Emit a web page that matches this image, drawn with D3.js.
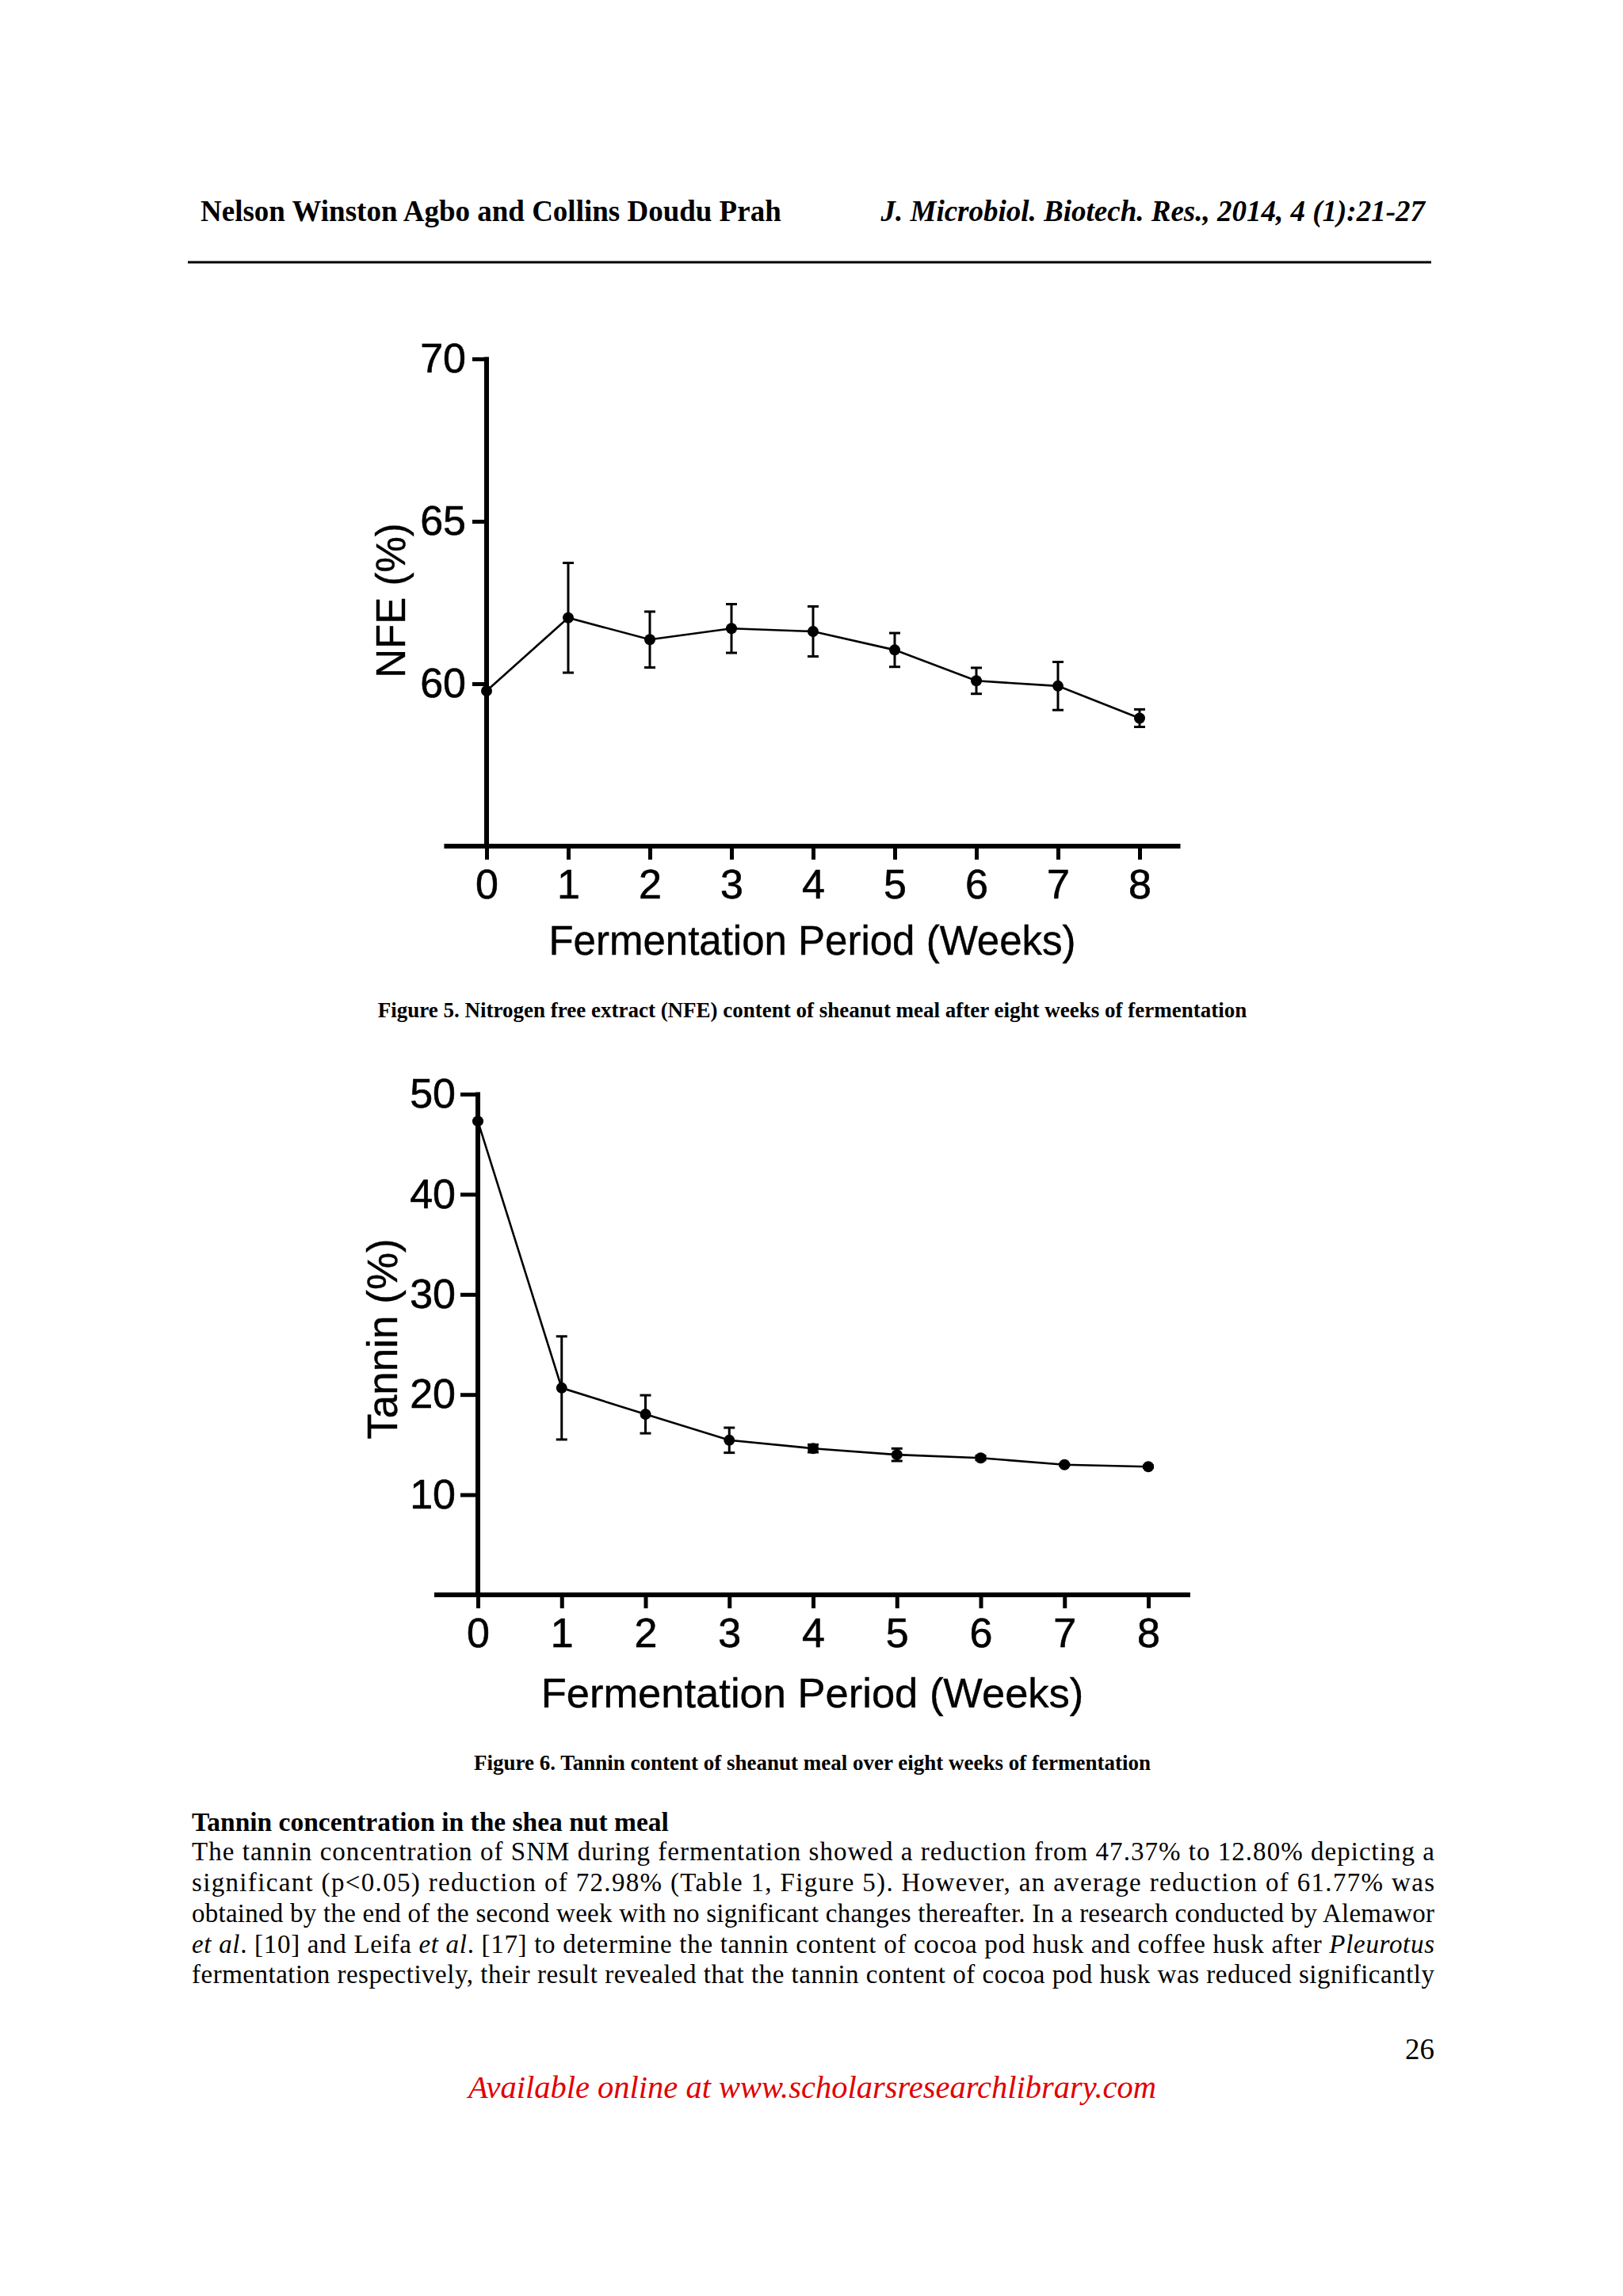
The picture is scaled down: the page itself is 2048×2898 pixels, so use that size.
<!DOCTYPE html>
<html>
<head>
<meta charset="utf-8">
<script src="https://cdn.jsdelivr.net/npm/d3@7"></script>
<style>
  body { margin: 0; background: #fff; }
  svg { display: block; }
</style>
</head>
<body>
<script>
// values
const weeks = [0, 1, 2, 3, 4, 5, 6, 7, 8];
const nfeMean = [59.78, 62.03, 61.36, 61.70, 61.61, 61.04, 60.09, 59.93, 58.94];
const nfeErr = [0, 1.69, 0.86, 0.75, 0.77, 0.52, 0.40, 0.74, 0.27];
const nfeTicks = [60, 65, 70];
const tanninMean = [47.30, 20.66, 18.03, 15.44, 14.62, 13.99, 13.67, 12.99, 12.80];
const tanninErr = [0, 5.15, 1.90, 1.25, 0.38, 0.62, 0.20, 0.10, 0.10];
const tanninTicks = [10, 20, 30, 40, 50];

const W = 2048, H = 2898;
const svg = d3.select("body").append("svg")
  .attr("width", W).attr("height", H)
  .attr("viewBox", [0, 0, W, H]);

svg.append("rect").attr("width", W).attr("height", H).attr("fill", "#fff");

const serif = "'Liberation Serif', 'Times New Roman', serif";
const sans = "'Liberation Sans', Arial, sans-serif";

// page header
svg.append("text")
  .attr("x", 253).attr("y", 266).attr("dy", "0.35em")
  .attr("font-family", serif).attr("font-weight", "bold").attr("font-size", 37)
  .text("Nelson Winston Agbo and Collins Doudu Prah");
svg.append("text")
  .attr("x", 1798).attr("y", 266).attr("dy", "0.35em")
  .attr("text-anchor", "end")
  .attr("font-family", serif).attr("font-weight", "bold").attr("font-style", "italic").attr("font-size", 37)
  .text("J. Microbiol. Biotech. Res., 2014, 4 (1):21-27");
svg.append("line")
  .attr("x1", 237).attr("x2", 1806).attr("y1", 331).attr("y2", 331)
  .attr("stroke", "#000").attr("stroke-width", 3);

function drawChart(opt) {
  const x = d3.scaleLinear().domain([0, 8]).range([opt.x0, opt.x8]);
  const y = d3.scaleLinear().domain(opt.yDomain).range([opt.yBottom, opt.yTop]);
  const g = svg.append("g");

  // x axis: line runs half a week beyond both ends
  g.append("line")
    .attr("x1", x(-0.52)).attr("x2", x(8.5))
    .attr("y1", opt.yBottom).attr("y2", opt.yBottom)
    .attr("stroke", "#000").attr("stroke-width", 6);
  const xAxis = g.append("g")
    .attr("transform", `translate(0,${opt.yBottom})`)
    .call(d3.axisBottom(x).tickValues(weeks).tickSize(17).tickPadding(12).tickFormat(d3.format("d")));
  xAxis.select(".domain").remove();
  xAxis.selectAll(".tick line").attr("stroke", "#000").attr("stroke-width", 5);
  xAxis.selectAll(".tick text")
    .attr("font-family", sans).attr("font-size", 52).attr("fill", "#000")
    .attr("stroke", "#000").attr("stroke-width", 0.6);

  // y axis
  g.append("line")
    .attr("x1", x(0)).attr("x2", x(0))
    .attr("y1", y(opt.yDomain[1]) - 2.5).attr("y2", opt.yBottom)
    .attr("stroke", "#000").attr("stroke-width", 6);
  const yAxis = g.append("g")
    .attr("transform", `translate(${x(0)},0)`)
    .call(d3.axisLeft(y).tickValues(opt.ticks).tickSize(opt.tickLen).tickPadding(opt.tickPad));
  yAxis.select(".domain").remove();
  yAxis.selectAll(".tick line").attr("stroke", "#000").attr("stroke-width", 5);
  yAxis.selectAll(".tick text")
    .attr("font-family", sans).attr("font-size", 52).attr("fill", "#000")
    .attr("stroke", "#000").attr("stroke-width", 0.6);

  // titles
  g.append("text")
    .attr("x", 1025).attr("y", opt.xTitleY).attr("dy", "0.35em")
    .attr("text-anchor", "middle")
    .attr("font-family", sans).attr("font-size", opt.xTitleSize)
    .attr("stroke", "#000").attr("stroke-width", 0.4)
    .text("Fermentation Period (Weeks)");
  g.append("text")
    .attr("transform", `translate(${opt.yTitleX},${opt.yTitleY}) rotate(-90)`)
    .attr("text-anchor", "middle")
    .attr("font-family", sans).attr("font-size", opt.yTitleSize)
    .attr("stroke", "#000").attr("stroke-width", 0.4)
    .text(opt.yTitle);

  const pts = weeks.map((w, i) => ({ w, m: opt.mean[i], e: opt.err[i] }));

  // error bars
  const eb = g.append("g").attr("stroke", "#000").attr("stroke-width", 3);
  pts.filter(d => d.e > 0).forEach(d => {
    eb.append("line").attr("x1", x(d.w)).attr("x2", x(d.w))
      .attr("y1", y(d.m - d.e)).attr("y2", y(d.m + d.e));
    [d.m - d.e, d.m + d.e].forEach(v => {
      eb.append("line").attr("x1", x(d.w) - 7).attr("x2", x(d.w) + 7)
        .attr("y1", y(v)).attr("y2", y(v));
    });
  });

  // mean line
  g.append("path")
    .datum(pts)
    .attr("fill", "none").attr("stroke", "#000").attr("stroke-width", 2.6)
    .attr("d", d3.line().x(d => x(d.w)).y(d => y(d.m)));

  g.selectAll("circle.pt").data(pts).join("circle")
    .attr("class", "pt")
    .attr("cx", d => x(d.w)).attr("cy", d => y(d.m))
    .attr("r", 7).attr("fill", "#000");

  svg.append("text")
    .attr("x", 1025).attr("y", opt.captionY).attr("dy", "0.35em")
    .attr("text-anchor", "middle")
    .attr("font-family", serif).attr("font-weight", "bold").attr("font-size", 27)
    .text(opt.caption);
}

drawChart({
  mean: nfeMean, err: nfeErr, ticks: nfeTicks,
  yDomain: [55, 70], yTop: 453, yBottom: 1068,
  x0: 614, x8: 1438, tickLen: 18, tickPad: 8,
  xTitleY: 1187, xTitleSize: 51,
  yTitle: "NFE (%)", yTitleX: 511, yTitleY: 758, yTitleSize: 51,
  captionY: 1275,
  caption: "Figure 5. Nitrogen free extract (NFE) content of sheanut meal after eight weeks of fermentation"
});

drawChart({
  mean: tanninMean, err: tanninErr, ticks: tanninTicks,
  yDomain: [0, 50], yTop: 1381, yBottom: 2013,
  x0: 603, x8: 1449, tickLen: 22, tickPad: 6,
  xTitleY: 2137, xTitleSize: 52.5,
  yTitle: "Tannin (%)", yTitleX: 501, yTitleY: 1690, yTitleSize: 53,
  captionY: 2225,
  caption: "Figure 6. Tannin content of sheanut meal over eight weeks of fermentation"
});

// body text
svg.append("text")
  .attr("x", 242).attr("y", 2299).attr("dy", "0.35em")
  .attr("font-family", serif).attr("font-weight", "bold").attr("font-size", 33.5)
  .text("Tannin concentration in the shea nut meal");

const bodyLines = [
  [["The tannin concentration of SNM during fermentation showed a reduction from 47.37% to 12.80% depicting a", false]],
  [["significant (p<0.05) reduction of 72.98% (Table 1, Figure 5). However, an average reduction of 61.77% was", false]],
  [["obtained by the end of the second week with no significant changes thereafter. In a research conducted by Alemawor", false]],
  [["et al", true], [". [10] and Leifa ", false], ["et al", true], [". [17] to determine the tannin content of cocoa pod husk and coffee husk after ", false], ["Pleurotus", true]],
  [["fermentation respectively, their result revealed that the tannin content of cocoa pod husk was reduced significantly", false]]
];
const bodyY = [2336, 2375, 2414, 2453, 2491];

bodyLines.forEach((parts, i) => {
  const t = svg.append("text")
    .attr("x", 242).attr("y", bodyY[i]).attr("dy", "0.35em")
    .attr("font-family", serif).attr("font-size", 33)
    .attr("textLength", 1568).attr("lengthAdjust", "spacing");
  parts.forEach(([s, it]) => {
    t.append("tspan").attr("font-style", it ? "italic" : "normal").text(s);
  });
});

// footer
svg.append("text")
  .attr("x", 1810).attr("y", 2586).attr("dy", "0.35em")
  .attr("text-anchor", "end")
  .attr("font-family", serif).attr("font-size", 37)
  .text("26");
svg.append("text")
  .attr("x", 1025).attr("y", 2634).attr("dy", "0.35em")
  .attr("text-anchor", "middle")
  .attr("font-family", serif).attr("font-style", "italic").attr("font-size", 40.5)
  .attr("fill", "#e00000")
  .text("Available online at www.scholarsresearchlibrary.com");
</script>
</body>
</html>
